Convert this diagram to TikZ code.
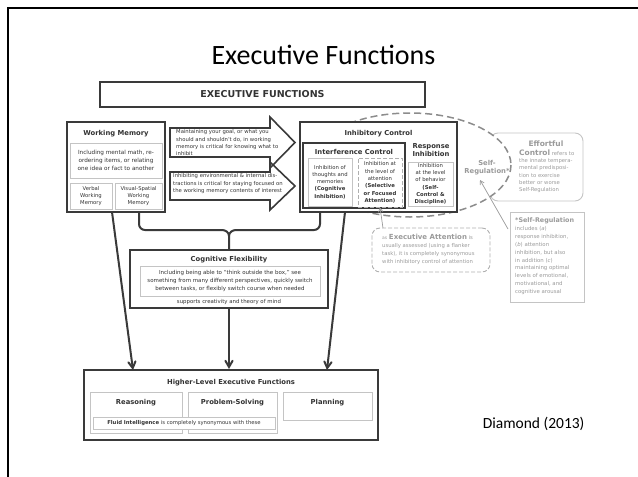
\documentclass[tikz,border=0pt]{standalone}
\usepackage{fontspec}
\setmainfont{DejaVu Sans}
\newfontfamily\slidefont{Carlito}
\usetikzlibrary{arrows}
\definecolor{lineDark}{HTML}{3A3A3A}
\definecolor{lineLight}{HTML}{C4C4C4}
\definecolor{txtDark}{HTML}{333333}
\definecolor{txtGray}{HTML}{9A9A9A}
\definecolor{dashGray}{HTML}{8C8C8C}
\tikzset{
	box_big/.style = {draw=lineDark, line width=2pt, fill=white, inner sep=0pt},
	box_mid/.style = {draw=lineDark, line width=1.3pt, fill=white, inner sep=0pt},
	box_in/.style = {draw=lineLight, line width=0.8pt, fill=white, inner sep=0pt},
	box_sr/.style = {draw=lineLight, line width=0.9pt, inner sep=0pt},
	box_dash/.style = {draw=dashGray!70, line width=0.9pt, dash pattern=on 4pt off 2pt,
		inner sep=0pt},
	bigarrow/.style = {draw=lineDark, line width=1.6pt},
	hdr/.style = {font=\bfseries\fontsize{6.8}{8}\selectfont, text=txtDark, inner sep=0pt,
		align=center},
	txt/.style = {font=\fontsize{5.3}{7.3}\selectfont, text=txtDark, inner sep=0pt,
		align=center},
	srtxt/.style = {font=\fontsize{5.4}{7.9}\selectfont, text=txtGray, inner sep=0pt,
		align=left, anchor=north west},
	link/.style = {draw=lineDark, line width=2pt},
	graylink/.style = {draw=txtGray, line width=0.7pt, ->}
}

\begin{document}
\begin{tikzpicture}[x=1pt, y=-1pt, >=angle 60]
\useasboundingbox (0,0) rectangle (638,477);
% slide frame and title
\draw[line width=2.2pt] (638,8) -- (8,8) -- (8,477);
\node[font=\slidefont\fontsize{28}{32}\selectfont, anchor=base] (title) at (323.5,64)
	{Executive Functions};
\node[font=\slidefont\fontsize{15.5}{18}\selectfont, anchor=base east] (cite) at (588,428)
	{Diamond (2013)};

% top box
\node[box_big, minimum width=325pt, minimum height=25pt] (ef) at (262.5,94.5) {};
\node[hdr, font=\bfseries\fontsize{9.5}{10}\selectfont] (eft) at (ef) {EXECUTIVE FUNCTIONS};

% self-regulation side notes
\node[box_sr, rounded corners=8pt, minimum width=93pt, minimum height=68pt] (eff) at (536.5,167) {};
\draw[dashGray, line width=1.5pt, dash pattern=on 7pt off 4pt, fill=white]
	(410,165) ellipse [x radius=101, y radius=52];
\node[hdr, text=txtGray, font=\bfseries\fontsize{7.5}{9}\selectfont] (efft) at (546,144) {Effortful};
\node[srtxt, font=\fontsize{5.3}{7.2}\selectfont] (effx) at (519,149.5)
	{\textbf{\fontsize{7.5}{7.2}\selectfont Control} refers to\\the innate tempera-\\mental predisposi-\\tion to exercise\\better or worse\\Self-Regulation};
\node[hdr, text=txtGray] (srl) at (487,167.5) {Self-\\Regulation*};
\node[box_sr, minimum width=74pt, minimum height=90pt] (srn) at (547,257) {};
\node[srtxt] (srnx) at (515,217.5)
	{\textbf{\fontsize{6.4}{7.9}\selectfont *Self-Regulation}\\includes (\textit{a})\\response inhibition,\\(\textit{b}) attention\\inhibition, but also\\in addition (\textit{c})\\maintaining optimal\\levels of emotional,\\motivational, and\\cognitive arousal};
\node[box_dash, rounded corners=8pt, minimum width=118pt, minimum height=44pt] (ea) at (431,250) {};
\node[srtxt, font=\fontsize{5.3}{7.9}\selectfont] (eax) at (382,234)
	{{\fontsize{4.5}{7}\selectfont as} \textbf{\fontsize{7}{7.9}\selectfont Executive Attention} is\\usually assessed (using a flanker\\task), it is completely synonymous\\with inhibitory control of attention};

% working memory
\node[box_big, minimum width=98pt, minimum height=90pt] (wm) at (116,167) {};
\node[hdr] (wmt) at (116,134) {Working Memory};
\node[box_in, minimum width=92pt, minimum height=35pt] (wmi) at (116,160.5) {};
\node[txt, font=\fontsize{5.7}{8}\selectfont] (wmix) at (wmi)
	{Including mental math, re-\\ordering items, or relating\\one idea or fact to another};
\node[box_in, minimum width=42pt, minimum height=26pt] (vb) at (91,196) {};
\node[txt] (vbx) at (vb) {Verbal\\Working\\Memory};
\node[box_in, minimum width=47pt, minimum height=26pt] (vs) at (138.5,196) {};
\node[txt] (vsx) at (vs) {Visual-Spatial\\Working\\Memory};

% two arrows into inhibitory control
\draw[bigarrow] (170,172) -- (270,172) -- (270,162) -- (295,186) -- (270,210) -- (270,200)
	-- (170,200) -- cycle;
\draw[bigarrow] (170,128) -- (270,128) -- (270,117) -- (295,142.5) -- (270,168) -- (270,157)
	-- (170,157) -- cycle;
\node[txt, align=left, anchor=north west] (arr1) at (176,129.5)
	{Maintaining your goal, or what you\\should and shouldn't do, in working\\memory is critical for knowing what to\\inhibit};
\node[txt, align=left, anchor=north west] (arr2) at (173,173.5)
	{Inhibiting environmental \& internal dis-\\tractions is critical for staying focused on\\the working memory contents of interest};

% inhibitory control
\node[box_big, minimum width=157pt, minimum height=90pt] (ic) at (378.5,167) {};
\node[hdr] (ict) at (378.5,134) {Inhibitory Control};
\node[box_mid, minimum width=102pt, minimum height=65pt] (intf) at (354,175.5) {};
\node[hdr] (intft) at (354,152) {Interference Control};
\node[box_in, minimum width=44pt, minimum height=48pt] (cog) at (330,182) {};
\node[txt] (cogx) at (cog) {Inhibition of\\thoughts and\\memories\\\textbf{(Cognitive}\\\textbf{Inhibition)}};
\node[box_dash, minimum width=44pt, minimum height=49pt] (sel) at (380,182.5) {};
\node[txt] (selx) at (sel) {Inhibition at\\the level of\\attention\\\textbf{(Selective}\\\textbf{or Focused}\\\textbf{Attention)}};
\node[hdr] (rit) at (431,150) {Response\\Inhibition};
\node[box_in, minimum width=45pt, minimum height=44pt] (beh) at (430.5,184) {};
\node[txt] (behx) at (beh) {Inhibition\\at the level\\of behavior\\\textbf{(Self-}\\\textbf{Control \&}\\\textbf{Discipline)}};

% gray pointers
\coordinate (eaup) at (383,228);
\draw[graylink] (eaup) -- (sel.south);
\coordinate (srfrom) at (508,229);
\coordinate (srto) at (480,180);
\draw[graylink] (srfrom) -- (srto);

% cognitive flexibility
\node[box_big, minimum width=198pt, minimum height=58pt] (cf) at (229,279) {};
\node[hdr] (cft) at (229,260) {Cognitive Flexibility};
\node[box_in, minimum width=180pt, minimum height=30pt] (cfi) at (230,281) {};
\node[txt, font=\fontsize{5.5}{7.8}\selectfont] (cfix) at (cfi)
	{Including being able to ``think outside the box,'' see\\something from many different perspectives, quickly switch\\between tasks, or flexibly switch course when needed};
\node[txt, font=\fontsize{5.4}{7}\selectfont] (cfs) at (229,302) {supports creativity and theory of mind};

% brace joining working memory and inhibitory control
\coordinate (brl) at (139,212);
\coordinate (brr) at (320,212);
\coordinate (brm) at (229,236);
\draw[link] (brl) -- (139,224) to[out=-90,in=180] (145,230) -- (222,230) to[out=0,in=90] (brm)
	-- (cf.north);
\draw[link] (brr) -- (320,224) to[out=-90,in=0] (314,230) -- (236,230) to[out=180,in=90] (brm);

% higher-level executive functions
\node[box_big, minimum width=294pt, minimum height=70pt] (hl) at (231,405) {};
\node[hdr] (hlt) at (231,383) {Higher-Level Executive Functions};
\node[box_in, minimum width=92pt, minimum height=41pt] (rea) at (136,412.5) {};
\node[hdr] (reat) at (136,403) {Reasoning};
\node[box_in, minimum width=89pt, minimum height=41pt] (ps) at (232.5,412.5) {};
\node[hdr] (pst) at (232.5,403) {Problem-Solving};
\node[box_in, minimum width=89pt, minimum height=28pt] (pla) at (327.5,406) {};
\node[hdr] (plat) at (327.5,403) {Planning};
\node[box_in, minimum width=182pt, minimum height=12pt] (fi) at (184,423) {};
\node[txt] (fix) at (fi) {\textbf{Fluid Intelligence} is completely synonymous with these};

% arrows down
\coordinate (wmout) at (112,212);
\coordinate (icout) at (345,212);
\draw[link, ->] (wmout) -- (133,370);
\draw[link, ->] (cf.south) -- (cf.south |- hl.north);
\draw[link, ->] (icout) -- (327,370);
\end{tikzpicture}
\end{document}
